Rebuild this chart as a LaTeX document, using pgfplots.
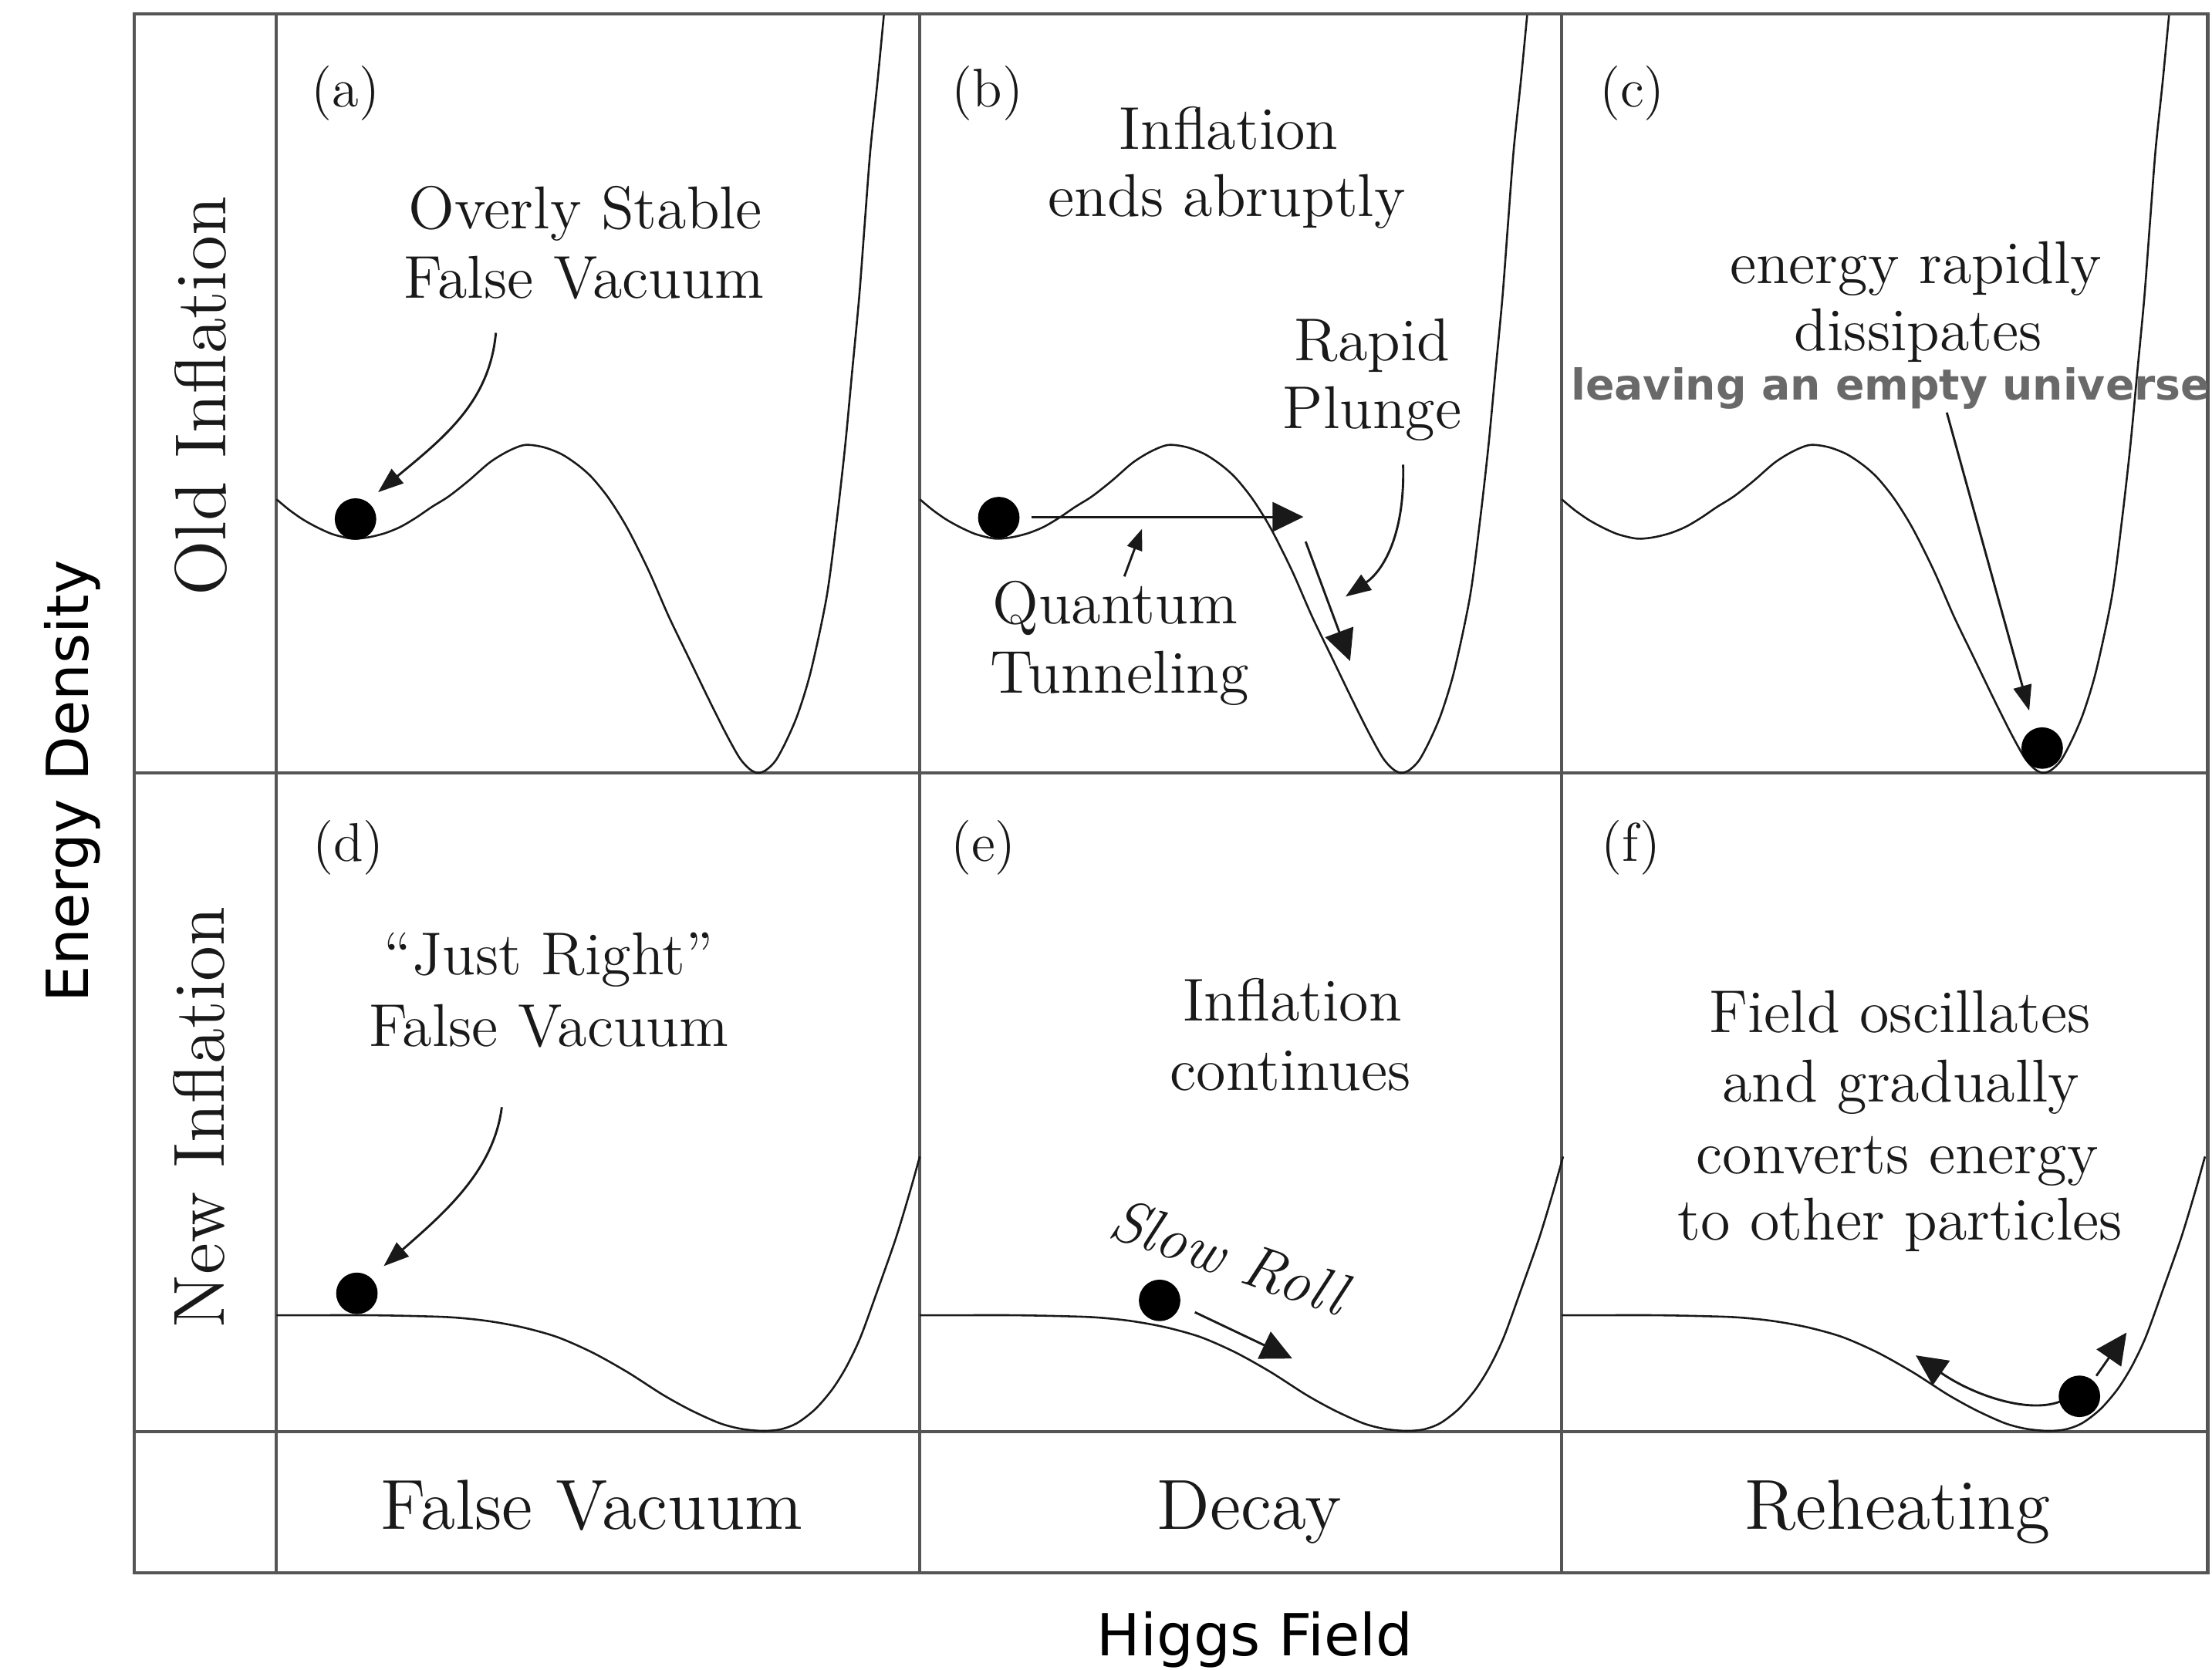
\documentclass[border=0pt]{standalone}
\usepackage{pgfplots}
\pgfplotsset{compat=1.18}
\usepackage{pgfplotstable}
\usepackage{fontspec}
\newfontfamily\dejavu{DejaVu Sans}
\usetikzlibrary{arrows.meta}
\definecolor{framec}{RGB}{85,85,85}
\definecolor{ink}{RGB}{25,25,25}
\definecolor{graytxt}{RGB}{105,105,105}

\tikzset{
  ptr/.style={ink, line width=0.45pt, -{Triangle[length=1.8mm,width=1.3mm]}},
  ptrs/.style={ink, line width=0.45pt, -{Triangle[length=1.5mm,width=1.1mm]}},
  mov/.style={ink, line width=0.45pt, -{Triangle[length=2.2mm,width=2.1mm]}},
  txt/.style={ink, anchor=base, inner sep=0pt, font=\fontsize{12.2}{14}\selectfont},
  lab/.style={ink, anchor=center, inner sep=0pt, font=\fontsize{11}{13}\selectfont},
  big/.style={ink, anchor=base, inner sep=0pt, font=\fontsize{14.3}{16}\selectfont},
}

% Old-inflation potential (panel a, display pixel coordinates)
\pgfplotstableread{
x y
196 354
205 361.5
215 368.5
225 374
235 378.5
245 381.2
252 382
262 380.8
273 378
284 373.5
295 367
306 359.5
318 352
332 341
347 328
360 320
372 315.5
385 317
398 322
410 330
420 339
432 354
445 375
460 405
474 437
488 466
502 495
514 519
524 537
531 545
537 548
543 546
550 539
558 524
566 505
575 475
586 423
593 370
599 317
604 264
609 211
613 158
617 106
622 58
626.5 11
}\oldpot

% New-inflation potential (panel d)
\pgfplotstableread{
x y
196 932.5
230 932.5
260 932.5
290 933
320 934
345 936.5
370 941
395 948
420 959
445 973
470 989
490 1000
510 1009
525 1013
540 1014.5
553 1013.5
565 1009
578 999
590 985
600 969
610 948
622 915
635 878
645 845
652 820
}\newpot

% Balls
\pgfplotstableread{
x y
252 368
708 367
1447.6 530.4
253 917
822 922
1474 990
}\balls

\begin{document}
\begin{tikzpicture}
\begin{axis}[scale only axis, width=156.8mm, height=118.4mm,
  xmin=0, xmax=1568, ymin=0, ymax=1184, y dir=reverse,
  axis lines=none, clip=false]
\path (axis cs:0,0) rectangle (axis cs:1568,1184);

% grid frame
\draw[framec, line width=0.65pt] (axis cs:95,10) rectangle (axis cs:1565,1115);
\draw[framec, line width=0.65pt] (axis cs:196,10) -- (axis cs:196,1115);
\draw[framec, line width=0.65pt] (axis cs:652,10) -- (axis cs:652,1115);
\draw[framec, line width=0.65pt] (axis cs:1107,10) -- (axis cs:1107,1115);
\draw[framec, line width=0.65pt] (axis cs:95,548) -- (axis cs:1565,548);
\draw[framec, line width=0.65pt] (axis cs:95,1015) -- (axis cs:1565,1015);

% potentials
\addplot[ink, line width=0.4pt, smooth] table {\oldpot};
\addplot[ink, line width=0.4pt, smooth] table[x expr=\thisrow{x}+456] {\oldpot};
\addplot[ink, line width=0.4pt, smooth] table[x expr=\thisrow{x}+911] {\oldpot};
\addplot[ink, line width=0.4pt, smooth] table {\newpot};
\addplot[ink, line width=0.4pt, smooth] table[x expr=\thisrow{x}+456] {\newpot};
\addplot[ink, line width=0.4pt, smooth] table[x expr=\thisrow{x}+911] {\newpot};

% arrows
\draw[ptr] (axis cs:351.5,236) .. controls (axis cs:347,285) and (axis cs:315,310) .. (axis cs:268,349);
\draw[ptr] (axis cs:355.7,785) .. controls (axis cs:350,830) and (axis cs:315,860) .. (axis cs:272,897.7);
\draw[ptr] (axis cs:994.6,329.5) .. controls (axis cs:996,380) and (axis cs:980,405) .. (axis cs:953.8,423);
\draw[ptrs] (axis cs:797,408.7) -- (axis cs:809.5,375);
\draw[mov] (axis cs:731,366.5) -- (axis cs:924,366.5);
\draw[mov] (axis cs:925.5,384) -- (axis cs:957,468.7);
\draw[ptr] (axis cs:1380,292.5) -- (axis cs:1438.4,503.9);
\draw[mov] (axis cs:847,930.4) -- (axis cs:916,963.2);
\draw[mov] (axis cs:1462,993) .. controls (axis cs:1440,1003) and (axis cs:1400,990) .. (axis cs:1358,961);
\draw[mov] (axis cs:1486,975.5) -- (axis cs:1507.4,944.8);

% balls
\addplot[only marks, mark=*, mark size=1.4mm, mark options={fill=black, draw=black}] table {\balls};

% panel labels
\node[lab] at (axis cs:245,66) {(a)};
\node[lab] at (axis cs:700,66) {(b)};
\node[lab] at (axis cs:1157,66) {(c)};
\node[lab] at (axis cs:247,601) {(d)};
\node[lab] at (axis cs:697,601) {(e)};
\node[lab] at (axis cs:1156,601) {(f)};

% annotations
\node[txt] at (axis cs:415,162) {Overly Stable};
\node[txt] at (axis cs:414,211.5) {False Vacuum};
\node[txt] at (axis cs:871,105.7) {Inflation};
\node[txt] at (axis cs:869.7,153.3) {ends abruptly};
\node[txt] at (axis cs:972.6,255.5) {Rapid};
\node[txt] at (axis cs:972.7,303.8) {Plunge};
\node[txt] at (axis cs:790.5,442) {Quantum};
\node[txt] at (axis cs:793.6,491.6) {Tunneling};
\node[txt] at (axis cs:1358,200.9) {energy rapidly};
\node[txt] at (axis cs:1359.8,248.4) {dissipates};
\node[graytxt, anchor=base, inner sep=0pt, font=\dejavu\bfseries\fontsize{8.6}{10}\selectfont] at (axis cs:1340,283.7) {leaving an empty universe};
\node[txt] at (axis cs:389,690.9) {``Just Right''};
\node[txt] at (axis cs:389,742) {False Vacuum};
\node[txt] at (axis cs:916,723.6) {Inflation};
\node[txt] at (axis cs:914.7,772.8) {continues};
\node[ink, inner sep=0pt, rotate=-19, font=\fontsize{12.2}{14}\selectfont\itshape] at (axis cs:871,891) {Slow Roll};
\node[txt] at (axis cs:1346.8,731.8) {Field oscillates};
\node[txt] at (axis cs:1347.5,781) {and gradually};
\node[txt] at (axis cs:1345,832) {converts energy};
\node[txt] at (axis cs:1346.8,879.2) {to other particles};

% column and row labels
\node[big] at (axis cs:419.5,1084) {False Vacuum};
\node[big] at (axis cs:885.5,1084) {Decay};
\node[big] at (axis cs:1345,1084) {Reheating};
\node[big, rotate=90, font=\fontsize{14.6}{16}\selectfont] at (axis cs:160,281) {Old Inflation};
\node[big, rotate=90, font=\fontsize{14.6}{16}\selectfont] at (axis cs:159,792) {New Inflation};

% axis titles
\node[black, anchor=base, inner sep=0pt, rotate=90, font=\dejavu\fontsize{11.7}{14}\selectfont] at (axis cs:62.8,554) {Energy Density};
\node[black, anchor=base, inner sep=0pt, font=\dejavu\fontsize{11.7}{14}\selectfont] at (axis cs:889.6,1174) {Higgs Field};
\end{axis}
\end{tikzpicture}
\end{document}
